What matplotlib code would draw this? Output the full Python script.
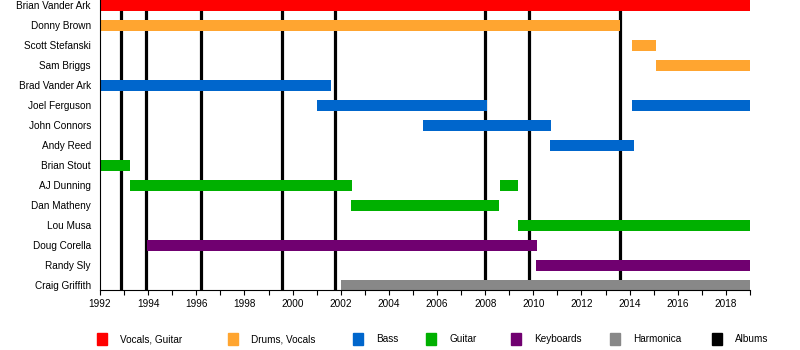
import matplotlib.pyplot as plt
from matplotlib.patches import Rectangle
from matplotlib.ticker import MultipleLocator

plt.rcParams['font.family'] = ['Liberation Sans', 'DejaVu Sans']

# band members, top to bottom
members = ['Brian Vander Ark', 'Donny Brown', 'Scott Stefanski', 'Sam Briggs',
           'Brad Vander Ark', 'Joel Ferguson', 'John Connors', 'Andy Reed',
           'Brian Stout', 'AJ Dunning', 'Dan Matheny', 'Lou Musa',
           'Doug Corella', 'Randy Sly', 'Craig Griffith']

# one entry per bar
bar_member = ['Brian Vander Ark', 'Donny Brown', 'Scott Stefanski', 'Sam Briggs',
              'Brad Vander Ark', 'Joel Ferguson', 'Joel Ferguson', 'John Connors',
              'Andy Reed', 'Brian Stout', 'AJ Dunning', 'AJ Dunning', 'Dan Matheny',
              'Lou Musa', 'Doug Corella', 'Randy Sly', 'Craig Griffith']
bar_start = [1992.0, 1992.0, 2014.1, 2015.08,
             1992.0, 2001.0, 2014.1, 2005.42,
             2010.7, 1992.0, 1993.25, 2008.62, 2002.42,
             2009.38, 1993.96, 2010.13, 2002.0]
bar_end = [2019.0, 2013.6, 2015.08, 2019.0,
           2001.6, 2008.08, 2019.0, 2010.75,
           2014.17, 1993.25, 2002.46, 2009.38, 2008.58,
           2019.0, 2010.17, 2019.0, 2019.0]
bar_role = ['Vocals, Guitar', 'Drums, Vocals', 'Drums, Vocals', 'Drums, Vocals',
            'Bass', 'Bass', 'Bass', 'Bass',
            'Bass', 'Guitar', 'Guitar', 'Guitar', 'Guitar',
            'Guitar', 'Keyboards', 'Keyboards', 'Harmonica']

# album release dates
albums = [1992.88, 1993.92, 1996.2, 1999.58, 2001.75, 2008.0, 2009.8, 2013.6]

roles = ['Vocals, Guitar', 'Drums, Vocals', 'Bass', 'Guitar', 'Keyboards', 'Harmonica', 'Albums']
role_colors = {'Vocals, Guitar': '#ff0000', 'Drums, Vocals': '#ffa530', 'Bass': '#0066cc',
               'Guitar': '#00b000', 'Keyboards': '#700070', 'Harmonica': '#888888',
               'Albums': '#000000'}

fig = plt.figure(figsize=(8, 3.5), dpi=100)
ax = fig.add_axes([100 / 800, 1 - 290 / 350, 650 / 800, 290 / 350])

ax.vlines(albums, -0.25, 14.25, color='black', linewidth=2.3, zorder=1)

for m, s, e, r in zip(bar_member, bar_start, bar_end, bar_role):
    ax.barh(members.index(m), e - s, left=s, height=0.55,
            color=role_colors[r], zorder=2)

ax.set_xlim(1992, 2019)
ax.set_ylim(14.25, -0.25)
ax.set_yticks(range(len(members)))
ax.set_yticklabels(members, fontsize=7.2)
ax.tick_params(axis='y', length=0, pad=6.5)
ax.xaxis.set_major_locator(MultipleLocator(2))
ax.xaxis.set_minor_locator(MultipleLocator(1))
ax.tick_params(axis='x', which='both', direction='out', length=3.5, width=0.8,
               labelsize=7.2, pad=3)
ax.spines['top'].set_visible(False)
ax.spines['right'].set_visible(False)

# legend along the bottom
legend_x = [97, 228, 353, 426, 511, 610, 712]
for r, lx in zip(roles, legend_x):
    fig.patches.append(Rectangle((lx / 800, 1 - 345 / 350), 10 / 800, 12 / 350,
                                 transform=fig.transFigure, color=role_colors[r]))
    fig.text((lx + 23) / 800, 1 - 339 / 350, r, fontsize=7.2, va='center', ha='left')

plt.savefig('out.png', dpi=100)
